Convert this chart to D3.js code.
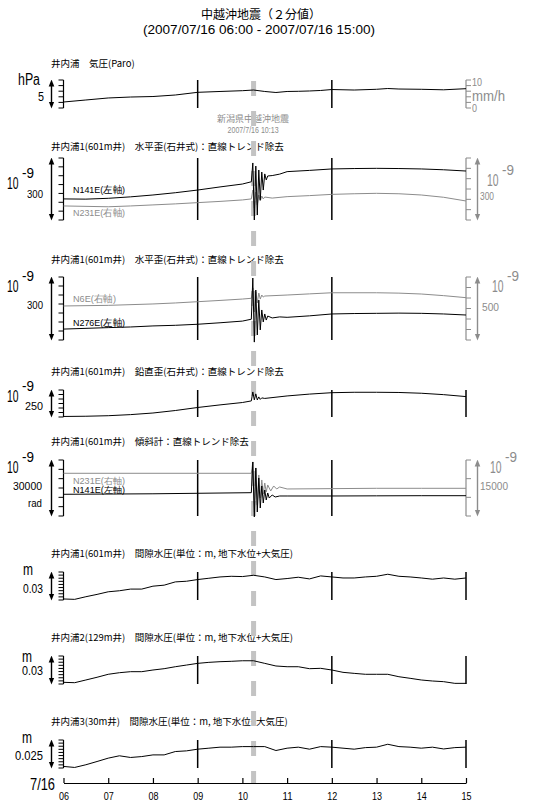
<!DOCTYPE html>
<html><head><meta charset="utf-8">
<script src="https://cdn.jsdelivr.net/npm/d3@7"></script>
<style>
body{margin:0;background:#fff}
svg text{font-family:"Liberation Sans",Arial,sans-serif}
svg text.jp{font-family:"Noto Sans CJK JP","Noto Sans CJK SC",sans-serif}
</style></head><body><svg id="c" width="557" height="803"></svg>
<script>
// ---------------- data ----------------
const mainTitle = "中越沖地震（２分値）";
const subTitle = "(2007/07/16 06:00 - 2007/07/16 15:00)";
const quakeTime = "10:13";
const quakeLabel1 = "新潟県中越沖地震";
const quakeLabel2 = "2007/7/16 10:13";
const hourTicks = [6,7,8,9,10,11,12,13,14,15];
const hourLabels = ["06","07","08","09","10","11","12","13","14","15"];
const dateLabel = "7/16";
const panelTitles = [
  "井内浦　気圧(Paro)",
  "井内浦1(601m井)　水平歪(石井式)：直線トレンド除去",
  "井内浦1(601m井)　水平歪(石井式)：直線トレンド除去",
  "井内浦1(601m井)　鉛直歪(石井式)：直線トレンド除去",
  "井内浦1(601m井)　傾斜計：直線トレンド除去",
  "井内浦1(601m井)　間隙水圧(単位：m, 地下水位+大気圧)",
  "井内浦2(129m井)　間隙水圧(単位：m, 地下水位+大気圧)",
  "井内浦3(30m井)　間隙水圧(単位：m, 地下水位+大気圧)"
];
const times15 = ["06:00","06:15","06:30","06:45","07:00","07:15","07:30","07:45","08:00","08:15","08:30","08:45",
  "09:00","09:15","09:30","09:45","10:00","10:15","10:30","10:45","11:00","11:15","11:30","11:45",
  "12:00","12:15","12:30","12:45","13:00","13:15","13:30","13:45","14:00","14:15","14:30","14:45","15:00"];

// pressure (hPa, relative)
const pressure = [["06:00",1.07],["06:30",1.43],["07:00",1.79],["07:30",1.96],["08:00",2.05],["08:30",2.32],["09:00",2.80],
  ["09:30",2.95],["10:00",3.09],["10:15",3.21],["10:30",2.95],["10:45",2.77],["11:00",2.95],["11:15",2.98],["11:30",3.04],
  ["11:45",3.13],["12:00",3.30],["12:30",3.21],["13:00",3.34],["13:15",3.48],["13:30",3.39],["14:00",3.34],["14:30",3.25],["15:00",3.45]];
// horizontal strain (1e-9)
const hsN141E = [["06:00",102],["06:30",101],["07:00",105],["07:30",112],["08:00",121],["08:30",132],["09:00",145],["09:30",160],
  ["10:00",174],["10:12",185],["10:14",276],["10:16",0],["10:18",261],["10:20",24],["10:22",242],["10:24",97],["10:26",232],
  ["10:28",145],["10:30",223],["10:32",194],["10:34",213],["10:40",215],["10:50",222],["11:00",234],["11:30",240],["12:00",247],
  ["12:30",249],["13:00",250],["13:30",249],["14:00",247],["14:30",243],["15:00",237]];
const hsN231E = [["06:00",68],["07:00",64],["07:30",68],["08:00",73],["08:30",78],["09:00",84],["09:30",90],["10:00",97],
  ["10:12",102],["10:14",145],["10:16",58],["10:18",135],["10:20",73],["10:22",121],["10:24",92],["10:26",116],["10:28",102],
  ["10:30",111],["10:40",106],["11:00",113],["11:30",118],["12:00",124],["12:30",127],["13:00",129],["13:30",127],["14:00",121],
  ["14:30",110],["15:00",92]];
const hsN6E = [["06:00",270],["07:00",275],["08:00",286],["08:30",294],["09:00",304],["09:30",314],["10:00",325],["10:12",331],
  ["10:14",413],["10:16",222],["10:18",381],["10:20",294],["10:22",373],["10:24",325],["10:26",357],["10:28",341],["10:30",349],
  ["11:00",357],["11:30",366],["12:00",375],["13:00",375],["13:30",372],["14:00",365],["14:30",352],["15:00",336]];
const hsN276E = [["06:00",52],["07:00",59],["07:30",62],["08:00",67],["08:30",70],["09:00",75],["09:30",82],["10:00",90],
  ["10:12",99],["10:14",295],["10:16",-10],["10:18",238],["10:20",24],["10:22",190],["10:24",48],["10:26",143],["10:28",86],
  ["10:30",124],["10:32",95],["10:34",114],["10:40",105],["10:50",110],["11:00",108],["11:30",115],["12:00",124],["12:30",126],
  ["13:00",127],["13:30",128],["14:00",127],["14:30",124],["15:00",119]];
// vertical strain (1e-9)
const vStrain = [["06:00",5],["06:30",7],["07:00",12],["07:30",22],["08:00",37],["08:30",60],["09:00",88],["09:30",112],
  ["10:00",134],["10:12",149],["10:14",232],["10:16",158],["10:18",214],["10:20",158],["10:22",186],["10:24",163],["10:26",177],
  ["10:30",172],["11:00",195],["11:30",212],["12:00",225],["12:30",229],["13:00",229],["13:30",227],["14:00",220],["14:30",207],["15:00",189]];
// tilt (1e-9 rad)
const tiltN231E = [["06:00",11440],["10:12",11440],["10:14",14470],["10:16",1070],["10:18",12860],["10:20",2950],["10:22",10990],
  ["10:24",4820],["10:26",9650],["10:28",5900],["10:30",8840],["10:32",6430],["10:34",8310],["10:38",6700],["10:42",8040],
  ["10:46",7240],["10:50",7770],["11:00",7240],["12:00",7330],["13:00",7420],["14:00",7420],["15:00",7420]];
const tiltN141E = [["06:00",11630],["08:00",11900],["10:12",12490],["10:14",28940],["10:16",-500],["10:18",25730],["10:20",2140],
  ["10:22",20370],["10:24",4290],["10:26",16080],["10:28",6970],["10:30",13940],["10:32",8580],["10:34",12330],["10:36",9650],
  ["10:40",11260],["10:44",10180],["10:50",10720],["11:00",10720],["12:00",10720],["13:00",10800],["14:00",10880],["15:00",10880]];
// pore pressure (m)
const pw1 = [.0011,.0007,.0035,.0060,.0088,.0099,.0117,.0117,.0148,.0159,.0194,.0201,.0219,.0233,.0247,.0254,.0251,.0265,.0247,
  .0219,.0230,.0244,.0226,.0258,.0247,.0236,.0236,.0247,.0254,.0276,.0254,.0247,.0236,.0223,.0236,.0223,.0236];
const pw2 = [.0018,.0014,.0043,.0072,.0104,.0121,.0132,.0132,.0150,.0164,.0185,.0203,.0221,.0232,.0239,.0243,.0249,.0249,.0221,
  .0193,.0185,.0185,.0164,.0168,.0150,.0125,.0114,.0104,.0104,.0104,.0078,.0061,.0043,.0032,.0025,.0007,.0007];
const pw3 = [.0014,.0005,.0029,.0058,.0088,.0109,.0094,.0102,.0117,.0117,.0147,.0153,.0168,.0177,.0186,.0186,.0191,.0191,.0191,
  .0156,.0177,.0186,.0168,.0191,.0186,.0177,.0168,.0182,.0186,.0212,.0191,.0186,.0177,.0186,.0170,.0182,.0186];

// ---------------- layout ----------------
const BLACK = "#000", GRAY = "#8c8c8c";
const svg = d3.select("#c");
const x = d3.scaleLinear().domain([6,15]).range([63.5,466]);
const tH = s => { const [h,m] = s.split(":").map(Number); return h + m/60; };

const defs = svg.append("defs");
[["ab",BLACK],["ag",GRAY]].forEach(([id,c])=>{
  defs.append("marker").attr("id",id).attr("viewBox","0 0 10 10").attr("refX",5).attr("refY",5)
    .attr("markerWidth",7).attr("markerHeight",7).attr("orient","auto-start-reverse").attr("markerUnits","userSpaceOnUse")
    .append("path").attr("d","M0,1 L10,5 L0,9 Z").attr("fill",c);
});

function txt(g,s,xx,yy,size,color,anchor,w){
  const t = g.append("text").attr("x",xx).attr("y",yy).attr("font-size",size).attr("fill",color||BLACK)
    .attr("text-anchor",anchor||"start").text(s);
  if(w) t.attr("textLength",w).attr("lengthAdjust","spacingAndGlyphs");
  return t;
}
function jtxt(g,s,xx,yy,size,color){
  return g.append("text").attr("class","jp").attr("x",xx).attr("y",yy).attr("font-size",size).attr("fill",color||BLACK).text(s);
}
function exp9(g,x10,yb,color){
  txt(g,"10",x10,yb,16,color,"start",11.5);
  txt(g,"-9",x10+15,yb-11,15,color,"start",12);
}

jtxt(svg,mainTitle,201,18.5,12);
txt(svg,subTitle,143,33.5,13,BLACK,"start",232);

const panels = [
  {top:80,bottom:108,ty:67,lt:6,rt:6},
  {top:158,bottom:220,ty:150,lt:8,rt:7},
  {top:277,bottom:340,ty:263,lt:8,rt:7},
  {top:390,bottom:417,ty:375,lt:7,rt:0},
  {top:460,bottom:516,ty:445,lt:7,rt:4},
  {top:572,bottom:600,ty:557,lt:10,rt:0},
  {top:656,bottom:684,ty:641,lt:10,rt:0},
  {top:740,bottom:768,ty:725,lt:10,rt:0}
];

function bracket(g,p,n,side,color){
  const x0 = side<0 ? 63.5 : 466;
  g.append("line").attr("x1",x0).attr("x2",x0).attr("y1",p.top).attr("y2",p.bottom).attr("stroke",color).attr("stroke-width",1.2);
  const ys = d3.scaleLinear().domain([0,n-1]).range([p.top,p.bottom]);
  d3.range(n).forEach(i=>{
    g.append("line").attr("x1",x0).attr("x2",x0+side*5).attr("y1",ys(i)).attr("y2",ys(i)).attr("stroke",color).attr("stroke-width",1);
  });
}
function arrow(g,p,xa,color,id){
  g.append("line").attr("x1",xa).attr("x2",xa).attr("y1",p.top+3).attr("y2",p.bottom-3)
    .attr("stroke",color).attr("stroke-width",1.4).attr("marker-start",`url(#${id})`).attr("marker-end",`url(#${id})`);
}

const gBack = svg.append("g");
const gBar = svg.append("g");
const gData = svg.append("g");

panels.forEach((p,i)=>{
  jtxt(gBack,panelTitles[i],51,p.ty,9.5);
  bracket(gBack,p,p.lt,-1,BLACK);
  arrow(gBack,p,51.5,BLACK,"ab");
  [9,12].forEach(h=>gBack.append("line").attr("x1",x(h)).attr("x2",x(h)).attr("y1",p.top).attr("y2",p.bottom)
     .attr("stroke",BLACK).attr("stroke-width",1.5));
  if(p.rt===0){
    gBack.append("line").attr("x1",x(15)).attr("x2",x(15)).attr("y1",p.top).attr("y2",p.bottom).attr("stroke",BLACK).attr("stroke-width",1.5);
  }
});
// panel 1 extras
bracket(gBack,panels[0],6,1,GRAY);
txt(gBack,"hPa",18,85,16,BLACK,"start",22);
txt(gBack,"5",44,101,12,BLACK,"end",6);
txt(gBack,"10",472,85.5,11.5,GRAY,"start",10);
txt(gBack,"mm/h",472,100.5,14.5,GRAY,"start",33);
txt(gBack,"0",472,112,11.5,GRAY,"start",5);
// panel 2
bracket(gBack,panels[1],7,1,GRAY); arrow(gBack,panels[1],477.5,GRAY,"ag");
exp9(gBack,7,189,BLACK); txt(gBack,"300",43,198,11.5,BLACK,"end",16);
exp9(gBack,487,186,GRAY); txt(gBack,"300",480,200,11,GRAY,"start",14);
txt(gBack,"N141E(左軸)",73,193,9.5,BLACK,"start",52);
txt(gBack,"N231E(右軸)",73,216,9.5,GRAY,"start",52);
// panel 3
bracket(gBack,panels[2],7,1,GRAY); arrow(gBack,panels[2],477.5,GRAY,"ag");
exp9(gBack,7,292,BLACK); txt(gBack,"300",43,309,11.5,BLACK,"end",16);
exp9(gBack,492,292,GRAY); txt(gBack,"500",482,311,11.5,GRAY,"start",17);
txt(gBack,"N6E(右軸)",73,302,9.5,GRAY,"start",43);
txt(gBack,"N276E(左軸)",73,326,9.5,BLACK,"start",52);
// panel 4
exp9(gBack,7,402,BLACK); txt(gBack,"250",43,410,11.5,BLACK,"end",18);
// panel 5
bracket(gBack,panels[4],4,1,GRAY); arrow(gBack,panels[4],477.5,GRAY,"ag");
exp9(gBack,7,473,BLACK); txt(gBack,"30000",42,490,11.5,BLACK,"end",29); txt(gBack,"rad",42,507,11.5,BLACK,"end",14);
exp9(gBack,490,473,GRAY); txt(gBack,"15000",480,490,11.5,GRAY,"start",28);
txt(gBack,"N231E(右軸)",73,483.5,9,GRAY,"start",52);
txt(gBack,"N141E(左軸)",73,492.5,9,BLACK,"start",52);
// panels 6-8
txt(gBack,"m",23,575,16,BLACK,"start",10); txt(gBack,"0.03",43,593,12.5,BLACK,"end",20);
txt(gBack,"m",22,662,16,BLACK,"start",10); txt(gBack,"0.03",43,675,12.5,BLACK,"end",21);
txt(gBack,"m",22,743,16,BLACK,"start",10); txt(gBack,"0.025",43,760,12.5,BLACK,"end",28);

// quake labels
const qx = x(tH(quakeTime)) + 1;
gBack.append("text").attr("class","jp").attr("x",qx).attr("y",122).attr("text-anchor","middle")
  .attr("font-size",9).attr("fill",GRAY).text(quakeLabel1);
txt(gBack,quakeLabel2,qx,133,9.5,GRAY,"middle",51);

// quake dashed bar
gBar.append("line").attr("x1",qx+0.5).attr("x2",qx+0.5).attr("y1",81).attr("y2",783)
  .attr("stroke","#c3c3c3").attr("stroke-width",5).attr("stroke-dasharray","15,15");

// bottom axis
const axG = svg.append("g").attr("transform","translate(0,783)");
axG.call(d3.axisBottom(x).tickValues(hourTicks).tickSize(0).tickFormat((d,i)=>hourLabels[i]).tickPadding(10));
axG.select(".domain").attr("stroke",BLACK).attr("stroke-width",1.2);
axG.selectAll(".tick line").remove();
axG.selectAll(".tick").append("line").attr("y1",0).attr("y2",-5).attr("stroke",BLACK).attr("stroke-width",1.2);
axG.selectAll(".tick text").attr("font-size",10).attr("font-family","Liberation Sans, sans-serif")
  .attr("textLength",10).attr("lengthAdjust","spacingAndGlyphs");
txt(svg,dateLabel,30,790,16,BLACK,"start",25);

// series
function series(data, p, span, color){
  const y = d3.scaleLinear().domain([0,span]).range([p.bottom,p.top]);
  gData.append("path").datum(data).attr("fill","none").attr("stroke",color).attr("stroke-width",1)
    .attr("stroke-linejoin","round")
    .attr("d",d3.line().x(d=>x(tH(d[0]))).y(d=>y(d[1])));
}
const zip = vals => times15.map((t,i)=>[t,vals[i]]);
series(pressure,panels[0],5,BLACK);
series(hsN231E,panels[1],300,GRAY);
series(hsN141E,panels[1],300,BLACK);
series(hsN6E,panels[2],500,GRAY);
series(hsN276E,panels[2],300,BLACK);
series(vStrain,panels[3],250,BLACK);
series(tiltN231E,panels[4],15000,GRAY);
series(tiltN141E,panels[4],30000,BLACK);
series(zip(pw1),panels[5],0.03,BLACK);
series(zip(pw2),panels[6],0.03,BLACK);
series(zip(pw3),panels[7],0.025,BLACK);
</script></body></html>
